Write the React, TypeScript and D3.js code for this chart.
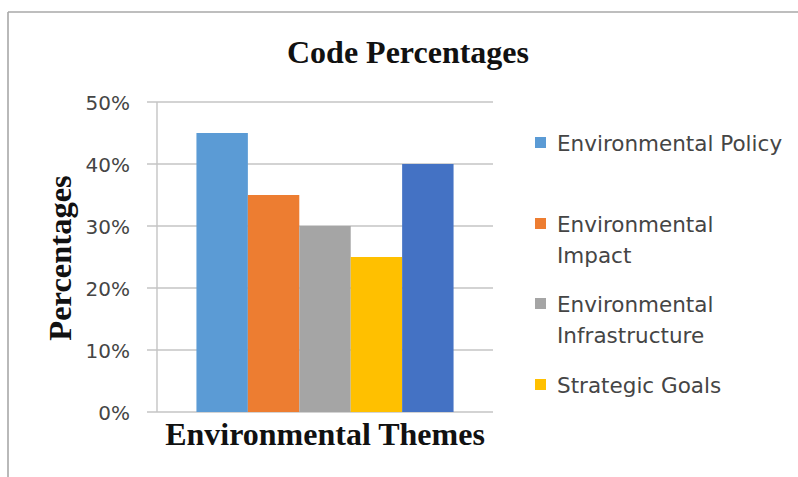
import React from "react";
import * as d3 from "d3";

// Chart content
const chartTitle = "Code Percentages";
const xAxisTitle = "Environmental Themes";
const yAxisTitle = "Percentages";
const category = "Environmental Themes";
const seriesKeys = ["policy", "impact", "infrastructure", "goals", "extra"];
const seriesValues = [45, 35, 30, 25, 40];
const seriesColors = ["#5B9BD5", "#ED7D31", "#A5A5A5", "#FFC000", "#4472C4"];
// Legend lines per series (an empty list means no legend entry)
const legendLines: string[][] = [
  ["Environmental Policy"],
  ["Environmental", "Impact"],
  ["Environmental", "Infrastructure"],
  ["Strategic Goals"],
  [],
];
const yTicks = [0, 10, 20, 30, 40, 50];

const W = 798;
const H = 477;
const plot = { left: 157, right: 493, top: 102, bottom: 412 };

export default function App() {
  const y = d3.scaleLinear().domain([0, 50]).range([plot.bottom, plot.top]);
  const x0 = d3.scaleBand<string>().domain([category]).range([plot.left, plot.right]).padding(0.133);
  const x1 = d3.scaleBand<string>().domain(seriesKeys).range([0, x0.bandwidth()]).padding(0);
  const fmt = (v: number) => `${v}%`;

  const legendX = 535;
  const legendTextX = 557;
  const legendBaselines = [151, 232, 312, 393];
  const lineGap = 31;

  return (
    <svg
      width={W}
      height={H}
      style={{ position: "absolute", left: 0, top: 0, background: "#fff" }}
    >
      <rect x={0} y={0} width={W} height={H} fill="#fff" />
      {/* frame */}
      <line x1={8} x2={W} y1={12} y2={12} stroke="#a8a8a8" strokeWidth={1.6} />
      <line x1={8} x2={8} y1={12} y2={H} stroke="#a8a8a8" strokeWidth={1.6} />

      {/* title */}
      <text
        x={408}
        y={63}
        textAnchor="middle"
        fontFamily="'Liberation Serif', 'Times New Roman', serif"
        fontWeight="bold"
        fontSize={32}
        fill="#111"
      >
        {chartTitle}
      </text>

      {/* gridlines and y ticks */}
      {yTicks.map((t) => (
        <g key={t}>
          <line
            x1={plot.left - 10}
            x2={plot.right}
            y1={y(t)}
            y2={y(t)}
            stroke="#c4c4c4"
            strokeWidth={1.4}
          />
          <text
            x={130}
            y={y(t) + 8}
            textAnchor="end"
            fontFamily="'DejaVu Sans', sans-serif"
            fontSize={20}
            fill="#454545"
          >
            {fmt(t)}
          </text>
        </g>
      ))}
      {/* y axis line */}
      <line x1={plot.left} x2={plot.left} y1={plot.top} y2={plot.bottom} stroke="#c4c4c4" strokeWidth={1.4} />

      {/* bars */}
      <g transform={`translate(${x0(category)},0)`}>
        {seriesKeys.map((k, i) => (
          <rect
            key={k}
            x={x1(k)}
            y={y(seriesValues[i])}
            width={x1.bandwidth()}
            height={y(0) - y(seriesValues[i])}
            fill={seriesColors[i]}
          />
        ))}
      </g>

      {/* axis titles */}
      <text
        x={(plot.left + plot.right) / 2}
        y={445}
        textAnchor="middle"
        fontFamily="'Liberation Serif', 'Times New Roman', serif"
        fontWeight="bold"
        fontSize={32}
        fill="#111"
      >
        {xAxisTitle}
      </text>
      <text
        transform={`translate(71,${(plot.top + plot.bottom) / 2 + 1}) rotate(-90)`}
        textAnchor="middle"
        fontFamily="'Liberation Serif', 'Times New Roman', serif"
        fontWeight="bold"
        fontSize={32.5}
        fill="#111"
      >
        {yAxisTitle}
      </text>

      {/* legend */}
      {legendLines
        .map((lines, i) => ({ lines, i }))
        .filter((d) => d.lines.length > 0)
        .map((d, j) => {
          const base = legendBaselines[j];
          return (
            <g key={seriesKeys[d.i]}>
              <rect x={legendX} y={base - 14} width={11} height={11} fill={seriesColors[d.i]} />
              {d.lines.map((ln, li) => (
                <text
                  key={li}
                  x={legendTextX}
                  y={base + li * lineGap}
                  fontFamily="'DejaVu Sans', sans-serif"
                  fontSize={21.5}
                  fill="#454545"
                >
                  {ln}
                </text>
              ))}
            </g>
          );
        })}
    </svg>
  );
}
